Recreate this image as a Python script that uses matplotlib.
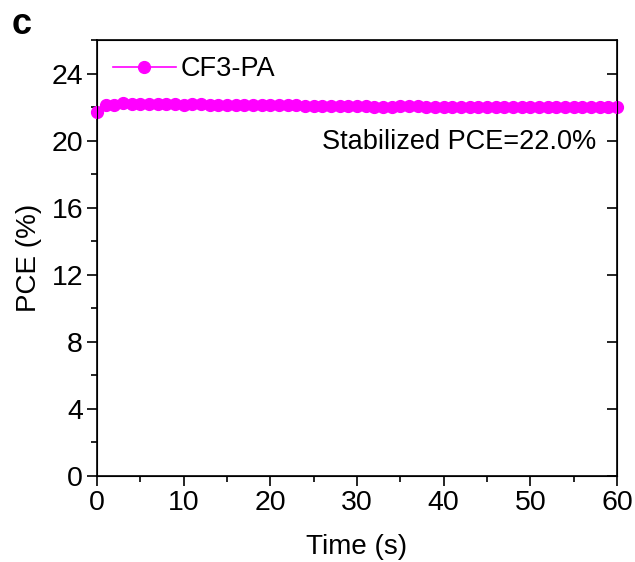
import matplotlib
matplotlib.use("Agg")
import matplotlib.pyplot as plt
from matplotlib.ticker import MultipleLocator

plt.rcParams['font.family'] = ['Liberation Sans', 'DejaVu Sans']

# stabilized output, one reading per second
time_s = list(range(61))
pce = [21.70, 22.10, 22.15, 22.25, 22.20, 22.18, 22.18, 22.17, 22.16, 22.16,
       22.15, 22.16, 22.17, 22.15, 22.14, 22.13, 22.13, 22.12, 22.12, 22.12,
       22.11, 22.11, 22.10, 22.10, 22.09, 22.09, 22.08, 22.08, 22.07, 22.07,
       22.06, 22.05, 22.03, 22.02, 22.03, 22.04, 22.04, 22.04, 22.03, 22.03,
       22.02, 21.98, 22.00, 22.02, 22.02, 22.01, 22.01, 22.01, 22.00, 22.00,
       22.00, 22.00, 21.99, 21.99, 21.99, 21.99, 21.98, 21.98, 21.98, 21.98,
       21.98]
series_label = "CF3-PA"
note = "Stabilized PCE=22.0%"

fig = plt.figure(figsize=(6.35, 5.62), dpi=100)
ax = fig.add_axes([97/635, 1 - 476/562, 520/635, 436/562])

ax.plot(time_s, pce, color='#ff00ff', marker='o', markersize=8.5, lw=1.2,
        label=series_label, clip_on=False, zorder=3)

ax.set_xlim(0, 60)
ax.set_ylim(0, 26)
ax.xaxis.set_major_locator(MultipleLocator(10))
ax.xaxis.set_minor_locator(MultipleLocator(5))
ax.yaxis.set_major_locator(MultipleLocator(4))
ax.yaxis.set_minor_locator(MultipleLocator(2))
ax.tick_params(which='both', direction='out', width=1.2, labelsize=20.5, pad=3)
ax.tick_params(which='major', length=7)
ax.tick_params(which='minor', length=4)
for sp in ax.spines.values():
    sp.set_linewidth(1.2)

# inward major ticks on the right edge
ax2 = ax.twinx()
ax2.set_ylim(0, 26)
ax2.yaxis.set_major_locator(MultipleLocator(4))
ax2.tick_params(direction='in', length=7, width=1.2, labelright=False)

ax.set_xlabel("Time (s)", fontsize=20, labelpad=13)
ax.set_ylabel("PCE (%)", fontsize=20, labelpad=7)

ax.legend(loc='upper left', frameon=False, fontsize=19.5, handlelength=2.3,
          handletextpad=0.2, borderaxespad=0.2, bbox_to_anchor=(0.0, 1.0))
ax.text(0.96, 0.765, note, transform=ax.transAxes, ha='right', va='center',
        fontsize=19.5)

fig.text(12/635, 1 - 24/562, "c", fontsize=26, fontweight='bold',
         ha='left', va='center')

fig.savefig("out.png", dpi=100)
